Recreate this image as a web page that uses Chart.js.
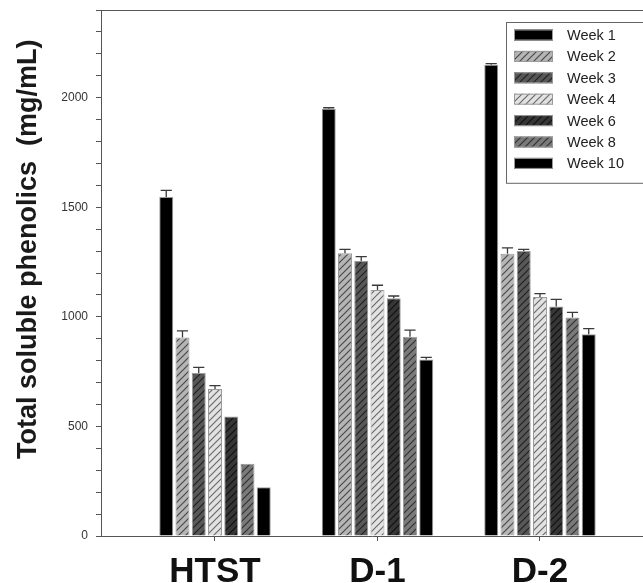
<!DOCTYPE html>
<html>
<head>
<meta charset="utf-8">
<script src="https://cdn.jsdelivr.net/npm/chart.js@4.4.1/dist/chart.umd.min.js"></script>
<style>
  html, body { margin: 0; padding: 0; background: #fff; overflow: hidden; }
  #wrap { width: 643px; height: 583px; }
</style>
</head>
<body>
<div id="wrap"><canvas id="phenolicsChart" width="643" height="583"></canvas></div>
<script>
// treatments on the x axis
const groups = ["HTST", "D-1", "D-2"];
const groupPos = [1, 2, 3];
const weeks = ["Week 1", "Week 2", "Week 3", "Week 4", "Week 6", "Week 8", "Week 10"];

// mean total soluble phenolics (mg/mL) per week, order HTST, D-1, D-2
const week1 = [1547, 1950, 2150];
const week2 = [906, 1290, 1288];
const week3 = [744, 1255, 1300];
const week4 = [671, 1123, 1091];
const week6 = [545, 1085, 1047];
const week8 = [330, 909, 997];
const week10 = [222, 805, 921];

// error bars (upper half visible)
const err1 = [30, 4, 5];
const err2 = [30, 18, 27];
const err3 = [25, 20, 8];
const err4 = [15, 21, 15];
const err6 = [0, 10, 33];
const err8 = [0, 30, 23];
const err10 = [0, 10, 25];

const yTicksMax = 2400;
const yStep = 100;
const yLabelStep = 500;

const FONT = "'Liberation Sans', Arial, Helvetica, sans-serif";

function hatch(fill, line) {
  const c = document.createElement("canvas");
  c.width = 7;
  c.height = 7;
  const g = c.getContext("2d");
  g.fillStyle = fill;
  g.fillRect(0, 0, 7, 7);
  g.strokeStyle = line;
  g.lineWidth = 1.2;
  g.beginPath();
  g.moveTo(-1, 8);
  g.lineTo(8, -1);
  g.moveTo(-8, 8);
  g.lineTo(1, -1);
  g.moveTo(6, 8);
  g.lineTo(15, -1);
  g.stroke();
  return g.createPattern(c, "repeat");
}

const styles = [
  "#000000",
  hatch("#b5b5b5", "#4a4a4a"),
  hatch("#585858", "#222222"),
  hatch("#e2e2e2", "#6a6a6a"),
  hatch("#363636", "#111111"),
  hatch("#7a7a7a", "#333333"),
  "#000000",
];

const values = [week1, week2, week3, week4, week6, week8, week10];
const errors = [err1, err2, err3, err4, err6, err8, err10];

const datasets = weeks.map((w, k) => ({
  label: w,
  data: values[k].map((v, i) => ({ x: groupPos[i], y: v })),
  errors: errors[k],
  backgroundColor: styles[k],
  borderColor: "#9a9a9a",
  borderWidth: 1,
  categoryPercentage: 0.7,
  barPercentage: 0.86,
}));

const errorBars = {
  id: "errorBars",
  afterDatasetsDraw(chart) {
    const ctx = chart.ctx;
    const y = chart.scales.y;
    ctx.save();
    ctx.strokeStyle = "#3a3a3a";
    ctx.lineWidth = 1.3;
    chart.data.datasets.forEach((ds, k) => {
      const meta = chart.getDatasetMeta(k);
      meta.data.forEach((bar, i) => {
        const e = ds.errors[i];
        if (!e) return;
        const top = y.getPixelForValue(ds.data[i].y + e);
        const half = bar.width * 0.4;
        ctx.beginPath();
        ctx.moveTo(bar.x, bar.y);
        ctx.lineTo(bar.x, top);
        ctx.moveTo(bar.x - half, top);
        ctx.lineTo(bar.x + half, top);
        ctx.stroke();
      });
    });
    ctx.restore();
  },
};

const frame = {
  id: "frame",
  afterDraw(chart) {
    const ctx = chart.ctx;
    const a = chart.chartArea;
    ctx.save();
    ctx.strokeStyle = "#555";
    ctx.lineWidth = 1;
    ctx.beginPath();
    ctx.moveTo(a.left, a.top + 0.5);
    ctx.lineTo(a.right, a.top + 0.5);
    ctx.stroke();

    // y axis title
    ctx.fillStyle = "#1a1a1a";
    ctx.font = "bold 27px " + FONT;
    ctx.textAlign = "center";
    ctx.textBaseline = "middle";
    ctx.translate(a.left - 72, a.top + (a.bottom - a.top) * 0.455);
    ctx.rotate(-Math.PI / 2);
    ctx.fillText("Total soluble phenolics  (mg/mL)", 0, 0);
    ctx.restore();
  },
};

const boxLegend = {
  id: "boxLegend",
  afterDraw(chart) {
    const ctx = chart.ctx;
    const a = chart.chartArea;
    const left = a.right - 137;
    const top = a.top + 12;
    const rowH = 21.4;
    ctx.save();
    ctx.fillStyle = "#fff";
    ctx.fillRect(left, top, 200, rowH * 7 + 11);
    ctx.strokeStyle = "#666";
    ctx.lineWidth = 1;
    ctx.strokeRect(left + 0.5, top + 0.5, 200, rowH * 7 + 11);
    ctx.font = "14.5px " + FONT;
    ctx.textBaseline = "middle";
    ctx.textAlign = "left";
    chart.data.datasets.forEach((ds, k) => {
      const cy = top + 13 + k * rowH;
      ctx.fillStyle = ds.backgroundColor;
      ctx.fillRect(left + 8, cy - 5.5, 39, 11);
      ctx.strokeStyle = "#9a9a9a";
      ctx.strokeRect(left + 8.5, cy - 5, 38, 10);
      ctx.fillStyle = "#222";
      ctx.fillText(ds.label, left + 61, cy + 1);
    });
    ctx.restore();
  },
};

document.addEventListener("DOMContentLoaded", function () {
  const ctx = document.getElementById("phenolicsChart").getContext("2d");
  new Chart(ctx, {
    type: "bar",
    data: { datasets: datasets },
    options: {
      responsive: false,
      animation: false,
      layout: { padding: { top: 10, right: 0, left: 0, bottom: 0 } },
      plugins: {
        legend: { display: false },
        tooltip: { enabled: false },
      },
      scales: {
        x: {
          type: "linear",
          min: 0.2985,
          max: 3.634,
          offset: false,
          afterBuildTicks: (s) => {
            s.ticks = groupPos.map((v) => ({ value: v }));
          },
          afterFit: (s) => {
            s.height = 47;
            s.paddingLeft = 0;
            s.paddingRight = 0;
          },
          ticks: {
            autoSkip: false,
            maxRotation: 0,
            padding: 10,
            labelOffset: 0,
            color: "#111",
            font: { family: FONT, size: 35, weight: "bold" },
            callback: (v, i) => groups[i],
          },
          grid: {
            offset: false,
            drawOnChartArea: false,
            drawTicks: true,
            tickLength: 5,
            tickColor: "#555",
          },
          border: { color: "#555", width: 1 },
        },
        y: {
          min: 0,
          max: yTicksMax,
          afterFit: (s) => {
            s.width = 101;
            s.paddingTop = 0;
            s.paddingBottom = 0;
          },
          ticks: {
            stepSize: yStep,
            autoSkip: false,
            padding: 8,
            color: "#333",
            font: { family: FONT, size: 12 },
            callback: (v) => (v % yLabelStep === 0 ? v : ""),
          },
          grid: {
            drawOnChartArea: false,
            drawTicks: true,
            tickLength: 5,
            tickColor: "#555",
          },
          border: { color: "#555", width: 1 },
        },
      },
    },
    plugins: [errorBars, frame, boxLegend],
  });
});
</script>
</body>
</html>
